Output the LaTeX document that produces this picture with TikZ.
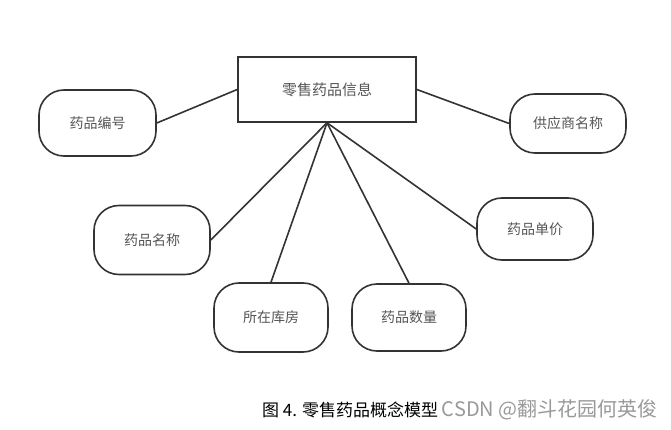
\documentclass[tikz,border=0pt]{standalone}
\usepackage{fontspec}
\setmainfont{Noto Sans CJK SC}
\newfontfamily\cjkfont{Noto Sans CJK SC}
\definecolor{linegray}{HTML}{333333}
\definecolor{textgray}{HTML}{555555}
\definecolor{markgray}{HTML}{999999}

\begin{document}
\begin{tikzpicture}[x=1pt, y=-1pt]
		\tikzset {entity/.style={draw=linegray, line width=1.6pt, fill=white, minimum width=178pt, minimum height=65pt, inner sep=0pt, font=\cjkfont\fontsize{15}{17}\selectfont, text=textgray},
			attr/.style={draw=linegray, line width=1.6pt, fill=white, rounded corners=25pt, minimum width=115pt, minimum height=64pt, inner sep=0pt, font=\cjkfont\fontsize{14}{16}\selectfont, text=textgray},
			link/.style={draw=linegray, line width=1.6pt} }
		\useasboundingbox (0,0) rectangle (671,430);

		\node[entity] (info) at (327,89.5) {零售药品信息};
		\node[attr, minimum width=117pt, minimum height=66pt] (code) at (97.5,123) {药品编号};
		\node[attr, minimum width=116pt, minimum height=59pt] (supplier) at (568,123.5) {供应商名称};
		\node[attr, minimum width=116pt, minimum height=69pt] (name) at (152,240) {药品名称};
		\node[attr, minimum width=116pt, minimum height=62pt] (price) at (535,229) {药品单价};
		\node[attr, minimum width=114pt, minimum height=69pt] (store) at (271,317.5) {所在库房};
		\node[attr, minimum width=114pt, minimum height=67pt] (amount) at (409,317.5) {药品数量};

		\draw[link]
			(info.west) edge (code.east)
			(info.east) edge (supplier.west)
			(info.south) edge (name.east)
			(info.south) edge (store.north)
			(info.south) edge (amount.north)
			(info.south) edge (price.west);

		\node[anchor=west, inner sep=0pt, font=\cjkfont\fontsize{17}{19}\selectfont] (caption) at (262,410) {图 4. 零售药品概念模型};
		\node[anchor=west, inner sep=0pt, text=markgray, font=\cjkfont\fontsize{20}{22}\selectfont] (mark) at (caption.east) {\,CSDN @翻斗花园何英俊};
	\end{tikzpicture}
\end{document}
